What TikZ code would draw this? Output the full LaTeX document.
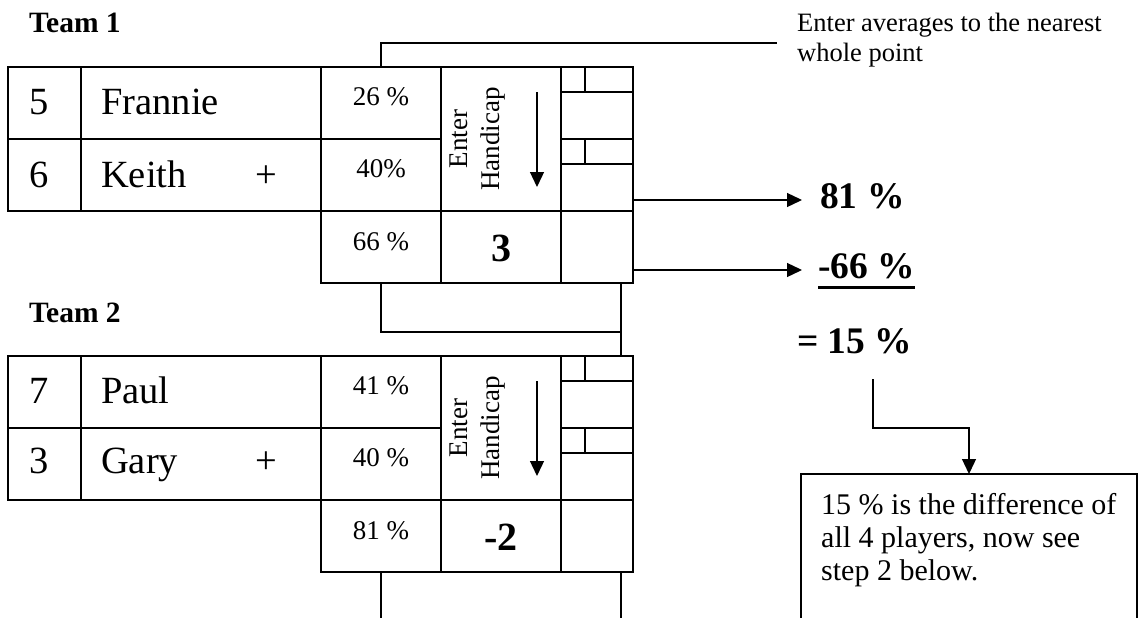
\documentclass[tikz,border=0pt]{standalone}
\usepackage{fontspec}
\setmainfont{Liberation Serif}
\usetikzlibrary{arrows.meta}

\begin{document}
\begin{tikzpicture}[x=1pt,y=-1pt,>={Triangle[width=14pt,length=15pt]},
    cell/.style={draw,line width=1.6pt,inner sep=0pt,outer sep=0pt,anchor=north west},
    link/.style={line width=1.3pt},
    team/.style={font=\fontsize{29.5}{35}\selectfont\bfseries,inner sep=0pt,anchor=base west},
    big/.style={font=\fontsize{38.5}{46}\selectfont,inner sep=0pt,anchor=base west},
    pct/.style={font=\fontsize{27}{32}\selectfont,inner sep=0pt,anchor=base},
    hcp/.style={font=\fontsize{40}{48}\selectfont\bfseries,inner sep=0pt,anchor=base},
    res/.style={font=\fontsize{37.5}{44}\selectfont\bfseries,inner sep=0pt,anchor=base west},
    rot/.style={font=\fontsize{27}{32}\selectfont,inner sep=0pt,rotate=90,align=center}]
      \useasboundingbox (0,0) rectangle (1138,618);
      % team 1
      \node[team] (team1) at (29,33) {Team 1};
      \node[cell,minimum width=73pt,minimum height=72pt] (num1a) at (8,67) {};
      \node[cell,minimum width=73pt,minimum height=72pt] (num1b) at (8,139) {};
      \node[cell,minimum width=240pt,minimum height=72pt] (name1a) at (81,67) {};
      \node[cell,minimum width=240pt,minimum height=72pt] (name1b) at (81,139) {};
      \node[cell,minimum width=120pt,minimum height=72pt] (pct1a) at (321,67) {};
      \node[cell,minimum width=120pt,minimum height=72pt] (pct1b) at (321,139) {};
      \node[cell,minimum width=120pt,minimum height=72pt] (pct1c) at (321,211) {};
      \node[cell,minimum width=120pt,minimum height=144pt] (hcp1) at (441,67) {};
      \node[cell,minimum width=120pt,minimum height=72pt] (hcpv1) at (441,211) {};
      \node[cell,minimum width=72pt,minimum height=72pt] (rgt1a) at (561,67) {};
      \node[cell,minimum width=72pt,minimum height=72pt] (rgt1b) at (561,139) {};
      \node[cell,minimum width=72pt,minimum height=72pt] (rgt1c) at (561,211) {};
      \node[cell,minimum width=72pt,minimum height=25pt] (strip1a) at (561,67) {};
      \node[cell,minimum width=24pt,minimum height=25pt] (box1a) at (561,67) {};
      \node[cell,minimum width=72pt,minimum height=25pt] (strip1b) at (561,139) {};
      \node[cell,minimum width=24pt,minimum height=25pt] (box1b) at (561,139) {};
      \node[big] (n5) at (29,114) {5};
      \node[big] (frannie) at (101,114) {Frannie};
      \node[big] (n6) at (29,187) {6};
      \node[big] (keith) at (101,187) {Keith};
      \node[big,anchor=base] (plus1) at (266,187) {+};
      \node[pct] (p26) at (381,105) {26 \%};
      \node[pct] (p40) at (381,177) {40\%};
      \node[pct] (p66) at (381,250) {66 \%};
      \node[rot] (enter1) at (478,139) {Enter\\Handicap};
      \node[hcp] (h3) at (501,261) {3};
      \draw[link,->] ([xshift=36pt,yshift=-25pt]hcp1.north) -- ([xshift=36pt,yshift=24pt]hcp1.south);
      % team 2
      \node[team] (team2) at (29,322) {Team 2};
      \node[cell,minimum width=73pt,minimum height=72pt] (num2a) at (8,356) {};
      \node[cell,minimum width=73pt,minimum height=72pt] (num2b) at (8,428) {};
      \node[cell,minimum width=240pt,minimum height=72pt] (name2a) at (81,356) {};
      \node[cell,minimum width=240pt,minimum height=72pt] (name2b) at (81,428) {};
      \node[cell,minimum width=120pt,minimum height=72pt] (pct2a) at (321,356) {};
      \node[cell,minimum width=120pt,minimum height=72pt] (pct2b) at (321,428) {};
      \node[cell,minimum width=120pt,minimum height=72pt] (pct2c) at (321,500) {};
      \node[cell,minimum width=120pt,minimum height=144pt] (hcp2) at (441,356) {};
      \node[cell,minimum width=120pt,minimum height=72pt] (hcpv2) at (441,500) {};
      \node[cell,minimum width=72pt,minimum height=72pt] (rgt2a) at (561,356) {};
      \node[cell,minimum width=72pt,minimum height=72pt] (rgt2b) at (561,428) {};
      \node[cell,minimum width=72pt,minimum height=72pt] (rgt2c) at (561,500) {};
      \node[cell,minimum width=72pt,minimum height=25pt] (strip2a) at (561,356) {};
      \node[cell,minimum width=24pt,minimum height=25pt] (box2a) at (561,356) {};
      \node[cell,minimum width=72pt,minimum height=25pt] (strip2b) at (561,428) {};
      \node[cell,minimum width=24pt,minimum height=25pt] (box2b) at (561,428) {};
      \node[big] (n7) at (29,403) {7};
      \node[big] (paul) at (101,403) {Paul};
      \node[big] (n3) at (29,473) {3};
      \node[big] (gary) at (101,473) {Gary};
      \node[big,anchor=base] (plus2) at (266,473) {+};
      \node[pct] (p41) at (381,394) {41 \%};
      \node[pct] (p40b) at (381,466) {40 \%};
      \node[pct] (p81) at (381,539) {81 \%};
      \node[rot] (enter2) at (478,428) {Enter\\Handicap};
      \node[hcp] (hm2) at (501,550) {-2};
      \draw[link,->] ([xshift=36pt,yshift=-25pt]hcp2.north) -- ([xshift=36pt,yshift=24pt]hcp2.south);
      % results and notes
      \node[font=\fontsize{26.5}{30}\selectfont,inner sep=0pt,anchor=north west,align=left] (avg) at (797,13) {Enter averages to the nearest\\whole point};
      \node[res] (tot) at (820,208) {81 \%};
      \node[res] (dif) at (818,278) {-66 \%};
      \node[res] (eq) at (797,353) {= 15 \%};
      \draw[line width=3pt] ([yshift=-9pt]dif.base west) -- ([yshift=-9pt]dif.base east);
      \node[cell,minimum width=336pt,minimum height=170pt] (note) at (801,474) {};
      \node[font=\fontsize{30}{33}\selectfont,inner sep=0pt,anchor=north west,align=left] (notetext) at (821,493) {15 \% is the difference of\\all 4 players, now see\\step 2 below.};
      \coordinate (avgend) at (777,43);
      \coordinate (tipa) at (802,200);
      \coordinate (tipb) at (802,270);
      \coordinate (join) at (621,332);
      \coordinate (eqfoot) at (873,379);
      \coordinate (enda) at (381,620);
      \coordinate (endb) at (621,620);
      \draw[link] (pct1a.north) |- (avgend);
      \draw[link,->] (rgt1b.east |- tipa) -- (tipa);
      \draw[link,->] (rgt1c.east |- tipb) -- (tipb);
      \draw[link] (pct1c.south) |- (join);
      \draw[link] ([xshift=24pt]rgt1c.south) -- ([xshift=24pt]rgt2a.north);
      \draw[link,->] (eqfoot) -- ++(0,49) -| (note.north);
      \draw[link] (pct2c.south) -- (enda);
      \draw[link] ([xshift=24pt]rgt2c.south) -- (endb);
    \end{tikzpicture}
\end{document}
